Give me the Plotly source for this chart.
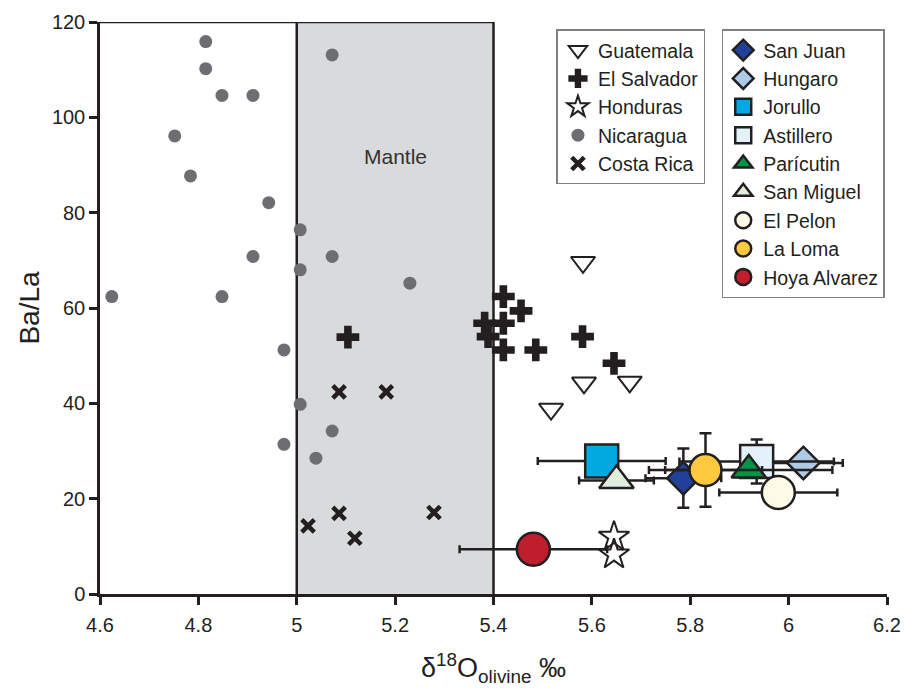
import plotly.graph_objects as go

# ---- data ----
guat_x = [5.582, 5.584, 5.677, 5.517]
guat_y = [69.6, 44.3, 44.5, 38.8]

els_x = [5.104, 5.420, 5.456, 5.382, 5.420, 5.389, 5.420, 5.486, 5.581, 5.645]
els_y = [53.9, 62.4, 59.4, 56.8, 56.8, 54.0, 51.2, 51.2, 54.0, 48.4]

hon_x = [5.645, 5.645]
hon_y = [12.0, 8.3]

nic_x = [4.815, 4.815, 4.848, 4.911, 4.752, 4.784, 4.943, 5.007, 4.911, 5.072,
         5.007, 5.230, 4.624, 4.848, 5.072, 4.974, 5.007, 4.974, 5.072, 5.039]
nic_y = [115.9, 110.2, 104.6, 104.6, 96.1, 87.7, 82.1, 76.4, 70.8, 70.8,
         68.0, 65.2, 62.4, 62.4, 113.1, 51.2, 39.8, 31.4, 34.2, 28.5]

cr_x = [5.086, 5.182, 5.023, 5.086, 5.118, 5.279]
cr_y = [42.4, 42.4, 14.3, 16.9, 11.7, 17.1]

# Mexican volcanoes: name, x, y, x-error, y-error
mex_names = ["San Juan", "Hungaro", "Jorullo", "Astillero", "Parícutin",
             "San Miguel", "El Pelon", "La Loma", "Hoya Alvarez"]
mex_x = [5.786, 6.030, 5.620, 5.935, 5.919, 5.650, 5.979, 5.831, 5.481]
mex_y = [24.3, 27.5, 27.9, 27.8, 26.0, 23.8, 21.3, 26.0, 9.4]
mex_ex = [0.077, 0.080, 0.130, 0.157, 0.170, 0.076, 0.120, 0.115, 0.150]
mex_ey = [6.2, 0.0, 0.0, 4.6, 0.0, 0.0, 0.0, 7.7, 0.0]
mex_symbol = ["diamond", "diamond", "square", "square", "triangle-up",
              "triangle-up", "circle", "circle", "circle"]
mex_color = ["#21409a", "#abcbe7", "#00a9e0", "#e3f1fb", "#009446",
             "#e2eedd", "#fdfbe5", "#fec93e", "#bf1e2d"]
mex_size = [25, 25, 33, 33, 30, 30, 33, 32, 33]

x_ticks = [4.6, 4.8, 5.0, 5.2, 5.4, 5.6, 5.8, 6.0, 6.2]
x_tick_text = ["4.6", "4.8", "5", "5.2", "5.4", "5.6", "5.8", "6", "6.2"]
y_ticks = [0, 20, 40, 60, 80, 100, 120]

mantle_range = [5.0, 5.4]

INK = "#231f20"
FONT = "Arial"

fig = go.Figure()

fig.add_trace(go.Scatter(x=guat_x, y=guat_y, mode="markers", name="Guatemala",
                         legend="legend",
                         marker=dict(symbol="triangle-down-open", size=21, color=INK,
                                     line=dict(width=2, color=INK))))
fig.add_trace(go.Scatter(x=els_x, y=els_y, mode="markers", name="El Salvador",
                         legend="legend",
                         marker=dict(symbol="cross", size=19, color=INK,
                                     line=dict(width=0))))
fig.add_trace(go.Scatter(x=hon_x, y=hon_y, mode="markers", name="Honduras",
                         legend="legend",
                         marker=dict(symbol="star-open", size=23, color=INK,
                                     line=dict(width=2, color=INK))))
fig.add_trace(go.Scatter(x=nic_x, y=nic_y, mode="markers", name="Nicaragua",
                         legend="legend",
                         marker=dict(symbol="circle", size=13, color="#6d6e71",
                                     line=dict(width=0))))
fig.add_trace(go.Scatter(x=cr_x, y=cr_y, mode="markers", name="Costa Rica",
                         legend="legend",
                         marker=dict(symbol="x-thin-open", size=12.5, color=INK,
                                     line=dict(width=4.5, color=INK))))

for i, nm in enumerate(mex_names):
    fig.add_trace(go.Scatter(
        x=[mex_x[i]], y=[mex_y[i]], mode="markers", name=nm, legend="legend2",
        error_x=dict(type="data", array=[mex_ex[i]], visible=mex_ex[i] > 0,
                     color=INK, thickness=2.5, width=4),
        error_y=dict(type="data", array=[mex_ey[i]], visible=mex_ey[i] > 0,
                     color=INK, thickness=2.5, width=6),
        marker=dict(symbol=mex_symbol[i], size=mex_size[i], color=mex_color[i],
                    line=dict(width=2.5, color=INK))))

# mantle box
fig.add_shape(type="rect", xref="x", yref="y", x0=mantle_range[0], x1=mantle_range[1],
              y0=0, y1=120, fillcolor="#d9dadc", line=dict(width=0), layer="below")
for xv in mantle_range:
    fig.add_shape(type="line", xref="x", yref="y", x0=xv, x1=xv, y0=0, y1=120,
                  line=dict(color=INK, width=2.5), layer="below")
fig.add_shape(type="line", xref="x", yref="y", x0=4.6, x1=mantle_range[1], y0=120, y1=120,
              line=dict(color=INK, width=2.5), layer="below")
fig.add_annotation(x=5.2, y=91.7, text="Mantle", showarrow=False,
                   font=dict(family=FONT, size=21, color="#333333"))

fig.update_layout(
    width=906, height=692,
    margin=dict(l=100, r=19, t=22, b=98, autoexpand=False),
    paper_bgcolor="white", plot_bgcolor="white",
    font=dict(family=FONT, size=20, color=INK),
    showlegend=True,
    legend=dict(x=0.58, y=0.987, xanchor="left", yanchor="top",
                bgcolor="white", bordercolor="#808080", borderwidth=1.5,
                font=dict(family=FONT, size=19.5, color=INK), itemsizing="trace"),
    legend2=dict(x=0.79, y=0.987, xanchor="left", yanchor="top",
                 bgcolor="white", bordercolor="#808080", borderwidth=1.5,
                 font=dict(family=FONT, size=19.5, color=INK), itemsizing="trace"),
    xaxis=dict(range=[4.6, 6.2], tickvals=x_ticks, ticktext=x_tick_text,
               automargin=False,
               showgrid=False, zeroline=False, showline=True, linecolor=INK,
               linewidth=2.5, ticks="outside", ticklen=8, tickwidth=2.5, tickcolor=INK,
               ticklabelstandoff=3,
               tickfont=dict(family=FONT, size=20, color=INK),
               title=dict(text="δ<sup>18</sup>O<sub>olivine</sub> ‰",
                          font=dict(family=FONT, size=27, color=INK), standoff=24)),
    yaxis=dict(range=[0, 120], tickvals=y_ticks,
               automargin=False,
               showgrid=False, zeroline=False, showline=True, linecolor=INK,
               linewidth=2.5, ticks="outside", ticklen=8, tickwidth=2.5, tickcolor=INK,
               tickfont=dict(family=FONT, size=20, color=INK),
               title=dict(text="Ba/La", font=dict(family=FONT, size=28, color=INK),
                          standoff=5)),
)

# remove the default 8px page margin so the figure fills the window exactly
fig.write_html("out.html", config={"displayModeBar": False},
               post_script="document.body.style.margin='0';")
